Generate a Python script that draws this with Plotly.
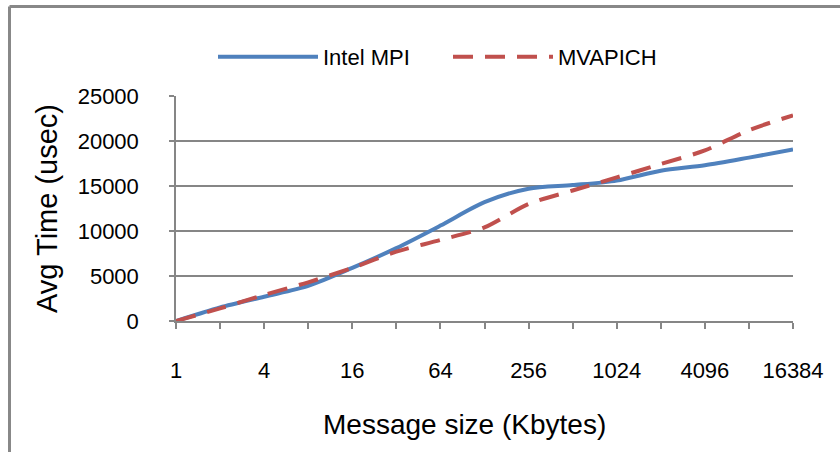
import plotly.graph_objects as go

sizes = ["1", "2", "4", "8", "16", "32", "64", "128", "256", "512", "1024", "2048", "4096", "8192", "16384"]
intel_mpi = [0, 1500, 2700, 3900, 5900, 8100, 10600, 13200, 14700, 15100, 15600, 16700, 17300, 18150, 19050]
mvapich = [0, 1400, 2900, 4300, 5900, 7700, 9000, 10400, 13000, 14500, 15950, 17450, 18950, 21200, 22850]
tick_labels = ["1", "", "4", "", "16", "", "64", "", "256", "", "1024", "", "4096", "", "16384"]
y_ticks = [0, 5000, 10000, 15000, 20000, 25000]
y_tick_labels = ["0", "5000", "10000", "15000", "20000", "25000"]

FONT = "Liberation Sans"
GRID = "#868686"

L, R, T, B = 176, 47, 96, 131
W, H = 840, 452
pw, ph = W - L - R, H - T - B

fig = go.Figure()
fig.add_trace(go.Scatter(x=sizes, y=intel_mpi, mode="lines", name="Intel MPI",
                         line=dict(color="#4F81BD", width=4, shape="spline", smoothing=0.8)))
fig.add_trace(go.Scatter(x=sizes, y=mvapich, mode="lines", name="MVAPICH",
                         line=dict(color="#C0504D", width=4, dash="20px,12px", shape="spline", smoothing=0.8)))

# outer frame (top and left edges)
fx = (9.5 - L) / pw
fy = 1 + (T - 6.5) / ph
fig.add_shape(type="line", xref="paper", yref="paper", x0=fx, y0=fy, x1=(W + 10 - L) / pw, y1=fy,
              line=dict(color="#888888", width=3))
fig.add_shape(type="line", xref="paper", yref="paper", x0=fx, y0=fy, x1=fx, y1=-(B + 10) / ph,
              line=dict(color="#888888", width=3))

# x-axis title (offset to the left like the reference)
fig.add_annotation(text="Message size (Kbytes)", xref="paper", yref="paper",
                   x=(464 - L) / pw, y=-(425 - (T + ph)) / ph, xanchor="center", yanchor="middle",
                   showarrow=False, font=dict(family=FONT, size=28, color="#000000"))

fig.update_layout(
    width=W, height=H,
    margin=dict(l=L, r=R, t=T, b=B),
    paper_bgcolor="white", plot_bgcolor="white",
    font=dict(family=FONT, color="#000000", size=20),
    showlegend=True,
    legend=dict(orientation="h", x=(213 - L) / pw, xanchor="left", y=1 + (T - 57) / ph, yanchor="middle",
                font=dict(family=FONT, size=22, color="#000000"), entrywidth=120, itemwidth=100),
    xaxis=dict(
        type="category", range=[0, 14],
        tickmode="array", tickvals=sizes, ticktext=tick_labels,
        showline=True, linecolor=GRID, linewidth=1.5,
        ticks="outside", ticklen=6, tickcolor=GRID, tickwidth=1.5,
        showgrid=False, zeroline=False,
        tickfont=dict(family=FONT, size=22),
        ticklabelstandoff=23,
    ),
    yaxis=dict(
        range=[0, 25000], tickmode="array", tickvals=y_ticks, ticktext=y_tick_labels,
        showline=True, linecolor=GRID, linewidth=1.5,
        ticks="outside", ticklen=5, tickcolor=GRID, tickwidth=1.5,
        showgrid=True, gridcolor=GRID, gridwidth=1.5, zeroline=False,
        tickfont=dict(family=FONT, size=22),
        ticklabelstandoff=26,
        title=dict(text="Avg Time (usec)", font=dict(family=FONT, size=29), standoff=12),
    ),
)

fig.write_html("out.html")
